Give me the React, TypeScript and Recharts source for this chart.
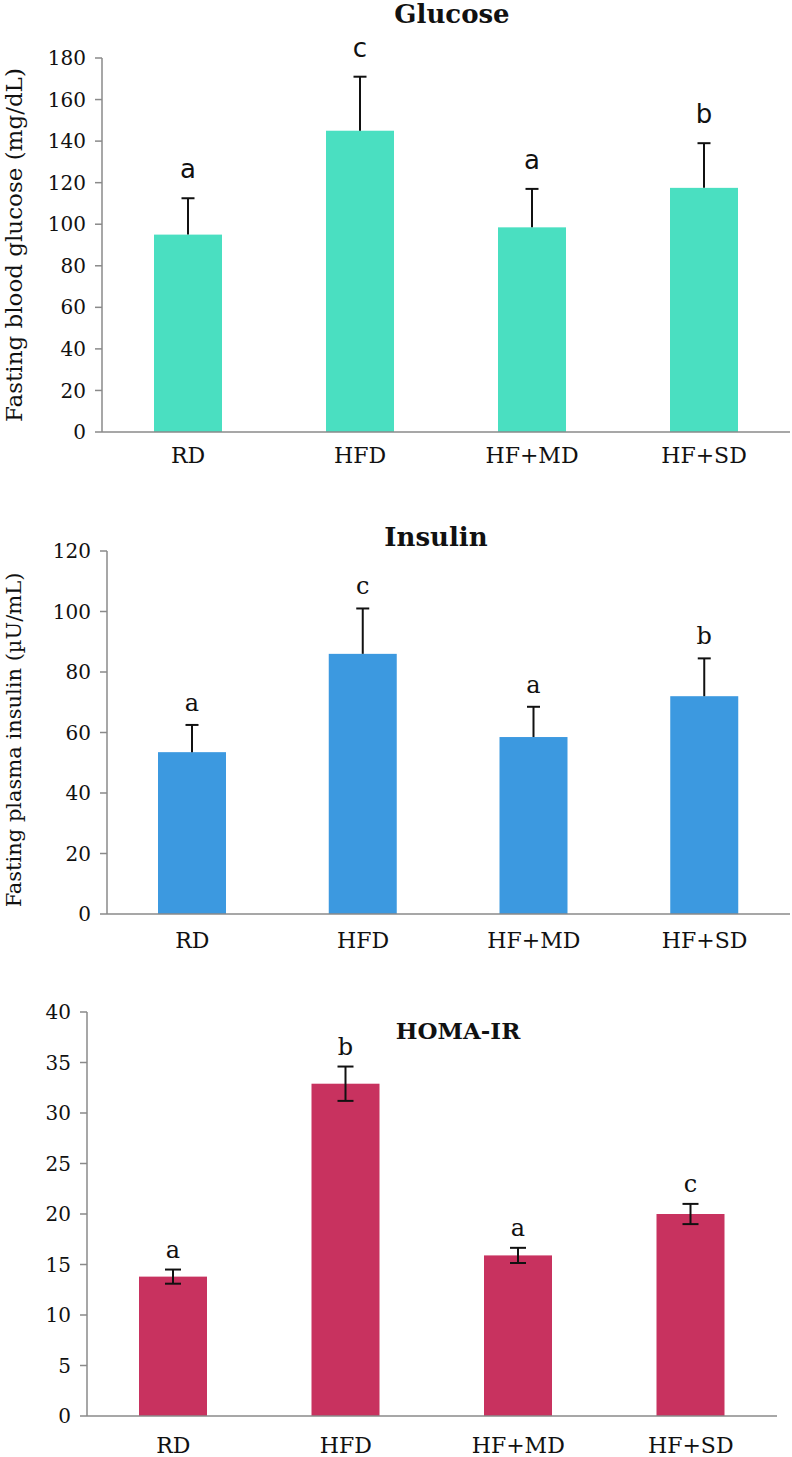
import React from "react";
import { BarChart, Bar, XAxis, YAxis } from "recharts";

const GROUPS = ["RD", "HFD", "HF+MD", "HF+SD"];

// Glucose panel
const GLUCOSE_MEAN = [95, 145, 98.5, 117.5];
const GLUCOSE_SD = [17.5, 26, 18.5, 21.5];
const GLUCOSE_LETTERS = ["a", "c", "a", "b"];
const GLUCOSE_TICKS = [0, 20, 40, 60, 80, 100, 120, 140, 160, 180];

// Insulin panel
const INSULIN_MEAN = [53.5, 86, 58.5, 72];
const INSULIN_SD = [9, 15, 10, 12.5];
const INSULIN_LETTERS = ["a", "c", "a", "b"];
const INSULIN_TICKS = [0, 20, 40, 60, 80, 100, 120];

// HOMA-IR panel
const HOMA_MEAN = [13.8, 32.9, 15.9, 20];
const HOMA_SD = [0.7, 1.7, 0.75, 1.0];
const HOMA_LETTERS = ["a", "b", "a", "c"];
const HOMA_TICKS = [0, 5, 10, 15, 20, 25, 30, 35, 40];

// category boundaries for the x-axis tick marks
const BOUNDARY_TICKS = [0, 1, 2, 3, 4];

const SERIF = "'DejaVu Serif', serif";
const AXIS_GREY = "#8a8a8a";

type Row = { group: string; mean: number; sd: number; letter: string };

function buildRows(mean: number[], sd: number[], letters: string[]): Row[] {
  return GROUPS.map((g, i) => ({ group: g, mean: mean[i], sd: sd[i], letter: letters[i] }));
}

type ShapeOpts = {
  twoSided: boolean;
  cap: number;
  letterGap: number;
  letterFont: string;
  letterSize: number;
};

// bar + error bar + significance letter, sized from the bar the library laid out
function barWithError(opts: ShapeOpts) {
  return (props: any) => {
    const { x, y, width, height, fill, payload } = props;
    const perUnit = payload.mean ? height / payload.mean : 0;
    const cx = x + width / 2;
    const errPx = payload.sd * perUnit;
    const top = y - errPx;
    const bottom = opts.twoSided ? y + errPx : y;
    return (
      <g>
        <rect x={x} y={y} width={width} height={height} fill={fill} />
        <line x1={cx} x2={cx} y1={bottom} y2={top} stroke="#111" strokeWidth={2} />
        <line x1={cx - opts.cap} x2={cx + opts.cap} y1={top} y2={top} stroke="#111" strokeWidth={2} />
        {opts.twoSided && (
          <line x1={cx - opts.cap} x2={cx + opts.cap} y1={bottom} y2={bottom} stroke="#111" strokeWidth={2} />
        )}
        <text
          x={cx}
          y={top - opts.letterGap}
          textAnchor="middle"
          fontFamily={opts.letterFont}
          fontSize={opts.letterSize}
          fill="#111"
        >
          {payload.letter}
        </text>
      </g>
    );
  };
}

type PanelProps = {
  rows: Row[];
  ticks: number[];
  color: string;
  top: number;
  height: number;
  margin: { top: number; right: number; left: number; bottom: number };
  yAxisWidth: number;
  xAxisHeight: number;
  xLabelGap: number;
  shape: ShapeOpts;
  title: string;
  titleX: number;
  titleY: number;
  titleSize: number;
  yLabel?: string;
  yLabelX?: number;
  yLabelY?: number;
  yLabelSize?: number;
};

function Panel(p: PanelProps) {
  const maxTick = p.ticks[p.ticks.length - 1];
  return (
    <div style={{ position: "absolute", left: 0, top: p.top, width: 792, height: p.height }}>
      <BarChart width={792} height={p.height} data={p.rows} margin={p.margin} barSize={68}>
        <XAxis
          xAxisId="edges"
          type="number"
          domain={[0, 4]}
          ticks={BOUNDARY_TICKS}
          tickFormatter={() => ""}
          axisLine={false}
          tickLine={{ stroke: AXIS_GREY, strokeWidth: 1.5 }}
          tickSize={8}
          height={0}
        />
        <XAxis
          dataKey="group"
          height={p.xAxisHeight}
          axisLine={{ stroke: AXIS_GREY, strokeWidth: 1.5 }}
          tickLine={false}
          tickSize={0}
          tickMargin={p.xLabelGap}
          tick={{ fontFamily: SERIF, fontSize: 22, fill: "#111" }}
          interval={0}
        />
        <YAxis
          width={p.yAxisWidth}
          domain={[0, maxTick]}
          ticks={p.ticks}
          interval={0}
          axisLine={{ stroke: AXIS_GREY, strokeWidth: 1.5 }}
          tickLine={{ stroke: AXIS_GREY, strokeWidth: 1.5 }}
          tickSize={7}
          tickMargin={9}
          tick={{ fontFamily: SERIF, fontSize: 20, fill: "#111" }}
        />
        <Bar dataKey="mean" fill={p.color} isAnimationActive={false} shape={barWithError(p.shape)} />
      </BarChart>
      <div
        style={{
          position: "absolute",
          left: p.titleX,
          top: p.titleY,
          transform: "translate(-50%, -50%)",
          fontFamily: SERIF,
          fontWeight: "bold",
          fontSize: p.titleSize,
          lineHeight: 1,
          whiteSpace: "nowrap",
          color: "#111",
        }}
      >
        {p.title}
      </div>
      {p.yLabel && (
        <div
          style={{
            position: "absolute",
            left: p.yLabelX,
            top: p.yLabelY,
            transform: "translate(-50%, -50%) rotate(-90deg)",
            fontFamily: SERIF,
            fontSize: p.yLabelSize,
            lineHeight: 1,
            whiteSpace: "nowrap",
            color: "#111",
          }}
        >
          {p.yLabel}
        </div>
      )}
    </div>
  );
}

export default function App() {
  return (
    <div style={{ position: "absolute", left: 0, top: 0, width: 792, height: 1457, background: "#fff" }}>
      {/* Glucose */}
      <Panel
        rows={buildRows(GLUCOSE_MEAN, GLUCOSE_SD, GLUCOSE_LETTERS)}
        ticks={GLUCOSE_TICKS}
        color="#4ADFC1"
        top={0}
        height={480}
        margin={{ top: 58, right: 2, left: 0, bottom: 8 }}
        yAxisWidth={102}
        xAxisHeight={40}
        xLabelGap={15}
        shape={{ twoSided: false, cap: 6.5, letterGap: 20, letterFont: "'DejaVu Sans', sans-serif", letterSize: 26 }}
        title="Glucose"
        titleX={452}
        titleY={14}
        titleSize={26}
        yLabel="Fasting blood glucose (mg/dL)"
        yLabelX={14}
        yLabelY={245}
        yLabelSize={23}
      />
      {/* Insulin */}
      <Panel
        rows={buildRows(INSULIN_MEAN, INSULIN_SD, INSULIN_LETTERS)}
        ticks={INSULIN_TICKS}
        color="#3C99E0"
        top={480}
        height={482}
        margin={{ top: 71, right: 2, left: 0, bottom: 12 }}
        yAxisWidth={107}
        xAxisHeight={36}
        xLabelGap={18}
        shape={{ twoSided: false, cap: 6.5, letterGap: 14, letterFont: SERIF, letterSize: 24 }}
        title="Insulin"
        titleX={436}
        titleY={57}
        titleSize={26}
        yLabel="Fasting plasma insulin (µU/mL)"
        yLabelX={14}
        yLabelY={260}
        yLabelSize={21}
      />
      {/* HOMA-IR */}
      <Panel
        rows={buildRows(HOMA_MEAN, HOMA_SD, HOMA_LETTERS)}
        ticks={HOMA_TICKS}
        color="#C8325F"
        top={950}
        height={507}
        margin={{ top: 62, right: 15, left: 0, bottom: 0 }}
        yAxisWidth={87}
        xAxisHeight={41}
        xLabelGap={21}
        shape={{ twoSided: true, cap: 8, letterGap: 12, letterFont: SERIF, letterSize: 24 }}
        title="HOMA-IR"
        titleX={458}
        titleY={80}
        titleSize={23}
      />
    </div>
  );
}
